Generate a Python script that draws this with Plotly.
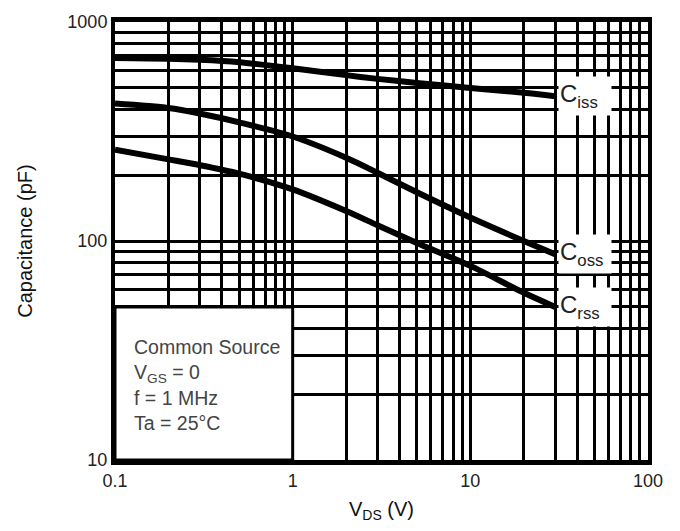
import math
import plotly.graph_objects as go

# ---- data ----
vds = [0.1, 0.2, 0.3, 0.5, 1, 2, 3, 5, 10, 20, 30]
ciss = [685, 680, 672, 655, 615, 572, 550, 527, 500, 475, 458]
coss = [424, 405, 382, 348, 300, 240, 205, 167, 128, 100, 87]
crss = [261, 236, 222, 203, 172, 137, 118, 98, 77, 58, 50]

series_names = ["C<sub>iss</sub>", "C<sub>oss</sub>", "C<sub>rss</sub>"]

x_major = [0.1, 1, 10, 100]
x_major_text = ["0.1", "1", "10", "100"]
y_major = [10, 100, 1000]
y_major_text = ["10", "100", "1000"]
mult = [2, 3, 4, 5, 6, 7, 8, 9]
x_minor = [m * d for d in [0.1, 1, 10] for m in mult]
y_minor = [m * d for d in [10, 100] for m in mult]

note_lines = ["Common Source", "V<sub>GS</sub> = 0", "f = 1 MHz", "Ta = 25°C"]

FONT = "Liberation Sans, Arial, sans-serif"

fig = go.Figure()
for ys in (ciss, coss, crss):
    fig.add_trace(go.Scatter(x=vds, y=ys, mode="lines",
                             line=dict(color="black", width=6, shape="spline", smoothing=0.8),
                             showlegend=False, hoverinfo="skip"))

grid_w = 3
fig.update_xaxes(type="log", range=[-1, 2], tickmode="array",
                 tickvals=x_major, ticktext=x_major_text,
                 showgrid=True, gridcolor="black", gridwidth=grid_w,
                 minor=dict(tickmode="array", tickvals=x_minor, showgrid=True,
                            gridcolor="black", gridwidth=grid_w, ticks=""),
                 showline=True, linecolor="black", linewidth=5, mirror=True,
                 ticks="", zeroline=False,
                 tickfont=dict(family=FONT, size=18, color="#222"),
                 title=dict(text="V<sub>DS</sub> (V)", standoff=14,
                            font=dict(family=FONT, size=20, color="#111")))
fig.update_yaxes(type="log", range=[1, 3], tickmode="array",
                 tickvals=y_major, ticktext=y_major_text,
                 showgrid=True, gridcolor="black", gridwidth=grid_w,
                 minor=dict(tickmode="array", tickvals=y_minor, showgrid=True,
                            gridcolor="black", gridwidth=grid_w, ticks=""),
                 showline=True, linecolor="black", linewidth=4, mirror=True,
                 ticks="", zeroline=False,
                 tickfont=dict(family=FONT, size=18, color="#222"),
                 title=dict(text="Capacitance (pF)", standoff=30,
                            font=dict(family=FONT, size=20, color="#111")))

# white note box covering the lower-left grid
fig.add_shape(type="rect", xref="x", yref="y", x0=0.1, x1=1, y0=10, y1=50,
              fillcolor="white", line=dict(color="black", width=3), layer="above")

fig.add_annotation(x=math.log10(0.1), y=math.log10(37.5), xref="x", yref="y",
                   xanchor="left", yanchor="top", xshift=17, align="left",
                   showarrow=False, text="<br>".join(note_lines),
                   font=dict(family=FONT, size=19.5, color="#444"))

for name, ys in zip(series_names, (ciss, coss, crss)):
    fig.add_annotation(x=math.log10(vds[-1]), y=math.log10(ys[-1]), xref="x", yref="y",
                       xanchor="left", yanchor="middle", xshift=3, showarrow=False,
                       text=name, bgcolor="white", width=50, height=36, align="left",
                       font=dict(family=FONT, size=24, color="#222"))

fig.update_layout(width=680, height=531, margin=dict(l=115, r=32, t=12, b=67),
                  paper_bgcolor="white", plot_bgcolor="white")

fig.write_html("out.html")
